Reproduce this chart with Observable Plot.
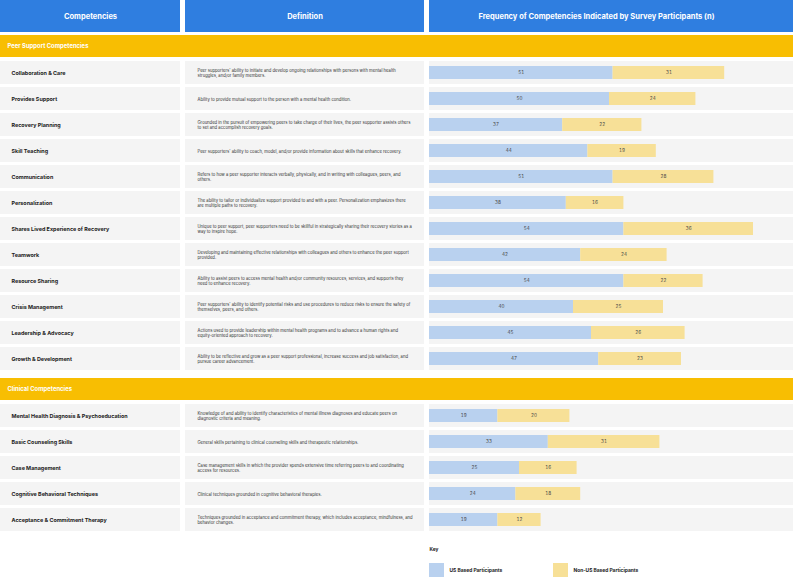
<!DOCTYPE html>
<html>
<head>
<meta charset="utf-8">
<script src="https://cdn.jsdelivr.net/npm/d3@7"></script>
<script src="https://cdn.jsdelivr.net/npm/@observablehq/plot@0.6"></script>
<style>
  html, body { margin: 0; padding: 0; background: #ffffff; }
  #chart svg { display: block; }
</style>
</head>
<body>
<div id="chart"></div>
<script>
// ---- Data -------------------------------------------------------------
const columnTitles = ["Competencies", "Definition", "Frequency of Competencies Indicated by Survey Participants (n)"];
const sections = ["Peer Support Competencies", "Clinical Competencies"];
const seriesNames = ["US Based Participants", "Non-US Based Participants"];
const keyTitle = "Key";

const peerCompetencies = [
  "Collaboration & Care", "Provides Support", "Recovery Planning", "Skill Teaching",
  "Communication", "Personalization", "Shares Lived Experience of Recovery", "Teamwork",
  "Resource Sharing", "Crisis Management", "Leadership & Advocacy", "Growth & Development"
];
const peerDefinitions = [
  "Peer supporters' ability to initiate and develop ongoing relationships with persons with mental health\nstruggles, and/or family members.",
  "Ability to provide mutual support to the person with a mental health condition.",
  "Grounded in the pursuit of empowering peers to take charge of their lives, the peer supporter assists others\nto set and accomplish recovery goals.",
  "Peer supporters' ability to coach, model, and/or provide information about skills that enhance recovery.",
  "Refers to how a peer supporter interacts verbally, physically, and in writing with colleagues, peers, and\nothers.",
  "The ability to tailor or individualize support provided to and with a peer. Personalization emphasizes there\nare multiple paths to recovery.",
  "Unique to peer support, peer supporters need to be skillful in strategically sharing their recovery stories as a\nway to inspire hope.",
  "Developing and maintaining effective relationships with colleagues and others to enhance the peer support\nprovided.",
  "Ability to assist peers to access mental health and/or community resources, services, and supports they\nneed to enhance recovery.",
  "Peer supporters' ability to identify potential risks and use procedures to reduce risks to ensure the safety of\nthemselves, peers, and others.",
  "Actions used to provide leadership within mental health programs and to advance a human rights and\nequity-oriented approach to recovery.",
  "Ability to be reflective and grow as a peer support professional, increase success and job satisfaction, and\npursue career advancement."
];
const peerUS    = [51, 50, 37, 44, 51, 38, 54, 42, 54, 40, 45, 47];
const peerNonUS = [31, 24, 22, 19, 28, 16, 36, 24, 22, 25, 26, 23];

const clinicalCompetencies = [
  "Mental Health Diagnosis & Psychoeducation", "Basic Counseling Skills", "Case Management",
  "Cognitive Behavioral Techniques", "Acceptance & Commitment Therapy"
];
const clinicalDefinitions = [
  "Knowledge of and ability to identify characteristics of mental illness diagnoses and educate peers on\ndiagnostic criteria and meaning.",
  "General skills pertaining to clinical counseling skills and therapeutic relationships.",
  "Case management skills in which the provider spends extensive time referring peers to and coordinating\naccess for resources.",
  "Clinical techniques grounded in cognitive behavioral therapies.",
  "Techniques grounded in acceptance and commitment therapy, which includes acceptance, mindfulness, and\nbehavior changes."
];
const clinicalUS    = [19, 33, 25, 24, 19];
const clinicalNonUS = [20, 31, 16, 18, 12];

// ---- Layout -----------------------------------------------------------
const W = 793, H = 577;
const BLUE = "#2f7ee0", YELLOW = "#f8be02", CELL = "#f4f4f4";
const BAR_COLORS = ["#b9d1ef", "#f7e097"];
const FONT = "Inter, 'DejaVu Sans', sans-serif";

// column edges in pixels
const cols = [[0, 180], [185, 424], [429, W]];
// the x scale counts participants; this maps page pixels back to that unit for table furniture
const xRange = [429, 789], xDomain = [0, 100];
const px = d3.scaleLinear().domain(xRange).range(xDomain);

const groups = [
  {names: peerCompetencies, defs: peerDefinitions, us: peerUS, non: peerNonUS},
  {names: clinicalCompetencies, defs: clinicalDefinitions, us: clinicalUS, non: clinicalNonUS}
];

const bands = [], rows = [];
let cursor = 35;
sections.forEach((name, s) => {
  bands.push({name, y1: cursor, y2: cursor + 22});
  cursor += 26;
  const g = groups[s];
  g.names.forEach((c, i) => {
    rows.push({name: c, def: g.defs[i], us: g.us[i], non: g.non[i], y1: cursor, y2: cursor + 23});
    cursor += 26;
  });
  cursor += 5;
});

const headers = columnTitles.map((t, i) => ({
  title: t, x1: px(cols[i][0]), x2: px(cols[i][1]),
  xc: i === 2 ? px(596) : px((cols[i][0] + cols[i][1]) / 2)
}));

const cells = rows.flatMap(r => cols.map(c => ({x1: px(c[0]), x2: px(c[1]), y1: r.y1, y2: r.y2})));

const segments = rows.flatMap(r => [
  {series: seriesNames[0], x1: 0, x2: r.us, value: r.us, y1: r.y1 + 5, y2: r.y1 + 18, yc: (r.y1 + r.y2) / 2},
  {series: seriesNames[1], x1: r.us, x2: r.us + r.non, value: r.non, y1: r.y1 + 5, y2: r.y1 + 18, yc: (r.y1 + r.y2) / 2}
]);

const legendItems = seriesNames.map((s, i) => {
  const left = i === 0 ? 429 : 553;
  return {series: s, x1: px(left), x2: px(left + 15), tx: px(left + 20), y1: 563, y2: 580, yc: 570};
});

const chart = Plot.plot({
  width: W, height: H,
  margin: 0,
  style: {fontFamily: FONT, background: "#ffffff"},
  x: {domain: xDomain, range: xRange, axis: null},
  y: {domain: [0, H], range: [0, H], axis: null},
  color: {domain: seriesNames, range: BAR_COLORS},
  marks: [
    // column headers
    Plot.rect(headers, {x1: "x1", x2: "x2", y1: 0, y2: 32, fill: BLUE}),
    Plot.text(headers, {x: "xc", y: 16.5, text: "title", fill: "#ffffff", fontSize: 7.5, fontWeight: 700}),
    // section bands
    Plot.rect(bands, {x1: px(0), x2: px(W), y1: "y1", y2: "y2", fill: YELLOW}),
    Plot.text(bands, {x: px(7), y: d => (d.y1 + d.y2) / 2, text: "name", textAnchor: "start",
      fill: "#ffffff", fontSize: 5.9, fontWeight: 700}),
    // table cells
    Plot.rect(cells, {x1: "x1", x2: "x2", y1: "y1", y2: "y2", fill: CELL}),
    Plot.text(rows, {x: px(11), y: d => (d.y1 + d.y2) / 2, text: "name", textAnchor: "start",
      fill: "#222222", fontSize: 5.4, fontWeight: 700}),
    Plot.text(rows, {x: px(197), y: d => (d.y1 + d.y2) / 2, text: "def", textAnchor: "start",
      fill: "#333333", fontSize: 4.2, lineHeight: 1.2}),
    // stacked frequency bars
    Plot.rect(segments, {x1: "x1", x2: "x2", y1: "y1", y2: "y2", fill: "series"}),
    Plot.text(segments, {x: d => (d.x1 + d.x2) / 2, y: "yc", text: "value", fill: "#444444", fontSize: 4.6}),
    // key
    Plot.text([keyTitle], {x: px(429), y: 549, text: d => d, textAnchor: "start",
      fill: "#222222", fontSize: 4.8, fontWeight: 700}),
    Plot.rect(legendItems, {x1: "x1", x2: "x2", y1: "y1", y2: "y2", fill: "series"}),
    Plot.text(legendItems, {x: "tx", y: "yc", text: "series", textAnchor: "start",
      fill: "#222222", fontSize: 4.9, fontWeight: 700})
  ]
});

document.getElementById("chart").append(chart);
</script>
</body>
</html>
